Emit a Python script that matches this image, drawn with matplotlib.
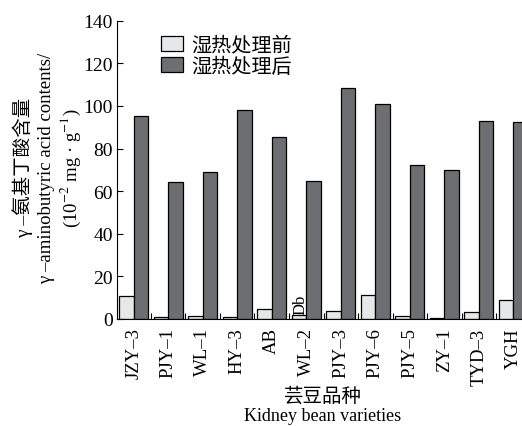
import matplotlib
matplotlib.use("Agg")
import matplotlib.pyplot as plt
import numpy as np

plt.rcParams['font.family'] = ['Liberation Serif', 'Noto Sans CJK SC']
plt.rcParams['mathtext.fontset'] = 'stix'

varieties = ["JZY–3", "PJY–1", "WL–1", "HY–3", "AB", "WL–2", "PJY–3", "PJY–6", "PJY–5", "ZY–1", "TYD–3", "YGH"]
before = [10.8, 0.8, 1.3, 0.8, 4.7, 1.9, 3.6, 11.1, 1.3, 0.3, 3.4, 8.9]
after = [95.1, 64.2, 69.1, 98.0, 85.4, 64.9, 108.5, 100.9, 72.1, 69.7, 93.1, 92.3]
yticks = [0, 20, 40, 60, 80, 100, 120, 140]
legend_labels = ["湿热处理前", "湿热处理后"]

W, H = 522, 427
fig = plt.figure(figsize=(W / 100, H / 100), dpi=100)
ax = fig.add_axes([117 / W, (H - 320) / H, (530 - 117) / W, (320 - 21.7) / H])

x = np.arange(len(varieties))
bw = 0.42
ax.bar(x - bw / 2, before, width=bw, color="#e6e7e8", edgecolor="black", linewidth=0.9, label=legend_labels[0])
ax.bar(x + bw / 2, after, width=bw, color="#6d6e71", edgecolor="black", linewidth=0.9, label=legend_labels[1])

ax.set_xlim(-0.485, len(varieties) - 0.515)
ax.set_ylim(0, 140)
ax.set_yticks(yticks)
ax.set_xticks(x)
ax.set_xticklabels(varieties, rotation=90, fontsize=13.5)
ax.set_xticks(x[:-1] + 0.5, minor=True)
ax.tick_params(axis='x', which='major', length=0, pad=6)
ax.tick_params(axis='x', which='minor', direction='in', length=4, width=0.8)
ax.tick_params(axis='y', direction='in', length=4, width=0.8, labelsize=14, pad=3)
for s in ['top', 'right']:
    ax.spines[s].set_visible(False)
for s in ['left', 'bottom']:
    ax.spines[s].set_linewidth(0.8)

ax.text(4.82, 2.3, "Db", rotation=90, fontsize=12, ha='center', va='bottom')

leg = ax.legend(loc='upper left', bbox_to_anchor=(0.063, 1.01), frameon=False, fontsize=14.5,
                handlelength=1.1, handleheight=0.75, handletextpad=0.4, labelspacing=0.1)

fig.text(323 / W, 1 - 397 / H, "芸豆品种", ha='center', va='center', fontsize=14)
fig.text(323 / W, 1 - 417 / H, "Kidney bean varieties", ha='center', va='center', fontsize=13)

ycen = 1 - 168 / H
fig.text(23 / W, ycen, "γ –氨基丁酸含量", rotation=90, ha='center', va='center', fontsize=14)
fig.text(47 / W, ycen, "γ –aminobutyric acid contents/", rotation=90, ha='center', va='center', fontsize=13.5)
fig.text(71 / W, ycen, "(10$^{-2}$ mg · g$^{-1}$)", rotation=90, ha='center', va='center', fontsize=13.5)

fig.savefig("out.png", dpi=100)
